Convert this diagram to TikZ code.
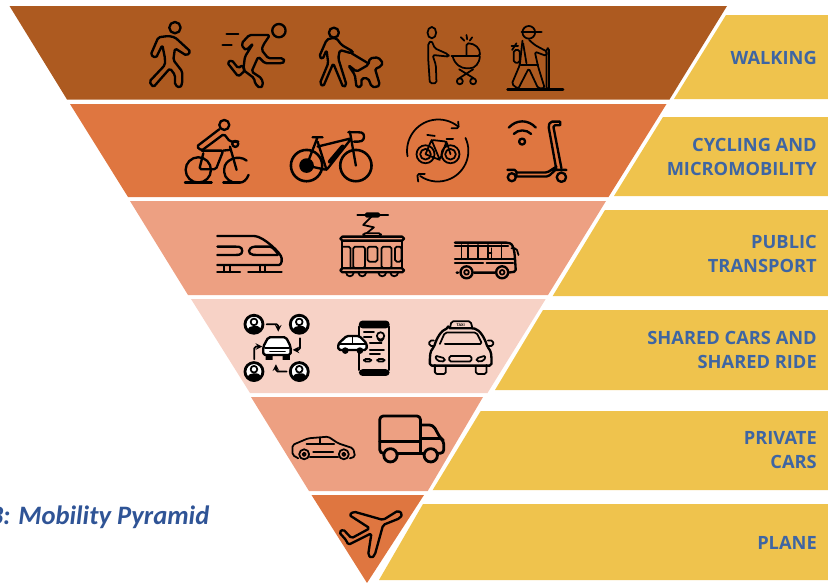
\documentclass[tikz,border=0pt]{standalone}
\usepackage{fontspec}
\setmainfont{Open Sans}
\newfontfamily\capfont{Carlito}
\definecolor{layerbrown}{HTML}{AD5A20}
\definecolor{layerorange}{HTML}{DF7640}
\definecolor{layersalmon}{HTML}{EDA082}
\definecolor{layerpale}{HTML}{F7D2C6}
\definecolor{bandyellow}{HTML}{EFC34D}
\definecolor{bandtext}{HTML}{3E65A3}
\definecolor{captext}{HTML}{2F5496}
\begin{document}
\begin{tikzpicture}[x=.03cm,y=-.03cm,%
    band/.style={fill=bandyellow},%
    tag/.style={anchor=base east,align=right,text=bandtext,inner sep=0pt,%
      font=\fontsize{15.6}{20.4}\selectfont\bfseries},%
    icon/.style={draw=black,line width=2pt,line cap=round,line join=round,rounded corners=1.5pt},%
    thinicon/.style={icon,line width=1.5pt},%
    topzone/.style={shift={(130,0)},x=.01cm,y=-.01cm},%
    midzone/.style={shift={(200,200)},x=.01cm,y=-.01cm},%
    lowzone/.style={shift={(0,390)},x=.01cm,y=-.01cm}%
    ]
  \useasboundingbox (0,0) rectangle (828,583);%
  %% pyramid layers
  \foreach \ya/\yb/\xa/\xb/\xc/\xd/\col in
  {6/99.5/9.5/727/669.5/67/layerbrown,%
    104/197/70/666.5/608.5/128/layerorange,%
    201/295/130/606/548/188/layersalmon,%
    299/393/191/545.7/487.5/250/layerpale,%
    397/491/251/483/427.7/309/layersalmon} {%
    \fill[\col] (\xa,\ya) -- (\xb,\ya) -- (\xc,\yb) -- (\xd,\yb) -- cycle;%
  }%
  \fill[layerorange] (311.5,495) -- (424,495) -- (367,583) -- cycle;%
  %% yellow bands
  \foreach \ya/\yb/\xa/\xb in
  {15/99/726/674,117/196/663/614,210/296/605/552.7,%
    310/390/543/495,411/490/480.7/432.7,504/580/423/379} {%
    \fill[band] (\xa,\ya) -- (828,\ya) -- (828,\yb) -- (\xb,\yb) -- cycle;%
  }%
  %% band labels
  \node[tag] (walking) at (817,64) {WALKING};%
  \node[tag] (cycling) at (817,175) {CYCLING AND\\MICROMOBILITY};%
  \node[tag] (public) at (817,272) {PUBLIC\\TRANSPORT};%
  \node[tag] (shared) at (817,368) {SHARED CARS AND\\SHARED RIDE};%
  \node[tag] (private) at (817,468) {PRIVATE\\CARS};%
  \node[tag] (plane) at (817,549) {PLANE};%
  \node[anchor=base east,inner sep=0pt,text=captext] (caption) at (209.5,524)
  {\capfont\fontsize{22.7}{24}\selectfont\bfseries\itshape 3: Mobility Pyramid};%
  %% top two layers
  \begin{scope}[topzone]
    %% walker
    \draw[icon] (135,83) circle (17);%
    \draw[icon] (115,108) -- (85,112) -- (62,165) -- (78,174) -- (97,135) -- (105,175)
    -- (105,195) -- (58,245) -- (70,262) -- (120,205) -- (135,225) -- (135,255)
    -- (150,264) -- (157,250) -- (157,215) -- (130,180) -- (135,145) -- (170,167)
    -- (182,155) -- (135,112) -- cycle;%
    %% runner
    \draw[icon] (447,92) circle (20);%
    \draw[icon] (335,130) -- (358,105) -- (420,105) -- (400,135) -- (395,150)
    -- (415,175) -- (460,175) -- (465,185) -- (455,190) -- (405,190) -- (385,170)
    -- (365,215) -- (395,235) -- (400,255) -- (390,265) -- (375,250) -- (373,235)
    -- (340,210) -- (345,170) -- (370,130) -- (350,150) -- (340,145) -- cycle;%
    \draw[icon] (290,103) -- (325,103) (278,135) -- (305,135);%
    \draw[icon] (292,188) -- (325,230) -- (345,212) -- (338,195) -- (325,205) -- (305,180) -- cycle;%
    %% dog walker
    \draw[icon] (612,98) circle (15);%
    \draw[icon] (600,115) -- (590,120) -- (568,170) -- (578,178) -- (590,150) -- (595,190)
    -- (570,250) -- (580,260) -- (610,190) -- (640,262) -- (650,255) -- (625,175)
    -- (630,150) -- (665,160) -- (670,155) -- (635,135) -- (620,115) -- cycle;%
    \draw[icon] (665,160) -- (715,190);%
    \draw[icon] (655,195) -- (680,215) -- (715,195) -- (720,175) -- (745,172) -- (760,190)
    -- (745,205) -- (735,205) -- (750,255) -- (740,262) -- (725,260) -- (715,235)
    -- (695,235) -- (695,260) -- (680,262) -- (675,225) -- cycle;%
    %% parent and pram
    \draw[thinicon] (906,98) ellipse (13 and 17);%
    \draw[thinicon] (905,122) -- (895,130) -- (895,175) -- (900,250) -- (920,250)
    -- (918,195) -- (908,165) -- (958,170) -- (955,163) -- (915,145) -- cycle;%
    \draw[thinicon] (965,168) -- (1050,168) .. controls (1052,145) and (1035,130) .. (1010,130) -- (1010,168);%
    \draw[thinicon] (968,168) .. controls (975,195) and (995,205) .. (1015,205)
    .. controls (1035,205) and (1050,190) .. (1050,168);%
    \draw[thinicon] (993,112) -- (1003,122) (1010,105) -- (1012,118) (1027,112) -- (1020,122);%
    \draw[thinicon] (988,235) -- (1030,208) (1032,235) -- (988,208);%
    \draw[thinicon] (990,244) circle (9) (1030,244) circle (9);%
    %% hiker
    \draw[thinicon] (1197,97) circle (19);%
    \draw[icon] (1176,97) -- (1235,97);%
    \draw[thinicon] (1152,150) rectangle (1170,188);%
    \draw[thinicon] (1145,138) -- (1165,138) (1147,150) -- (1160,130);%
    \draw[thinicon] (1178,122) -- (1170,195) -- (1146,252) -- (1165,267) -- (1197,205)
    -- (1225,265) -- (1245,265) -- (1225,200) -- (1215,155) -- (1250,168) -- (1252,155)
    -- (1215,135) -- (1198,120);%
    \draw[thinicon] (1172,195) -- (1225,195) (1180,130) -- (1190,190);%
    \draw[icon] (1133,269) -- (1300,269);%
    \draw[thinicon] (1250,145) rectangle (1258,268);%
    %% cyclist
    \draw[icon] (283,375) circle (15);%
    \draw[icon] (205,510) circle (38);%
    \draw[icon] (350,482) .. controls (325,462) and (283,480) .. (283,512)
    .. controls (283,535) and (305,550) .. (325,548) .. controls (340,548) and (350,540) .. (356,525);%
    \draw[icon] (165,548) -- (245,548) (280,548) -- (330,548);%
    \draw[icon] (268,388) -- (200,440) -- (215,452) -- (282,402) -- (300,425) -- (325,425);%
    \draw[icon] (316,432) circle (9);%
    \draw[icon] (215,452) -- (280,452) -- (258,508) -- (208,508) -- (220,460);%
    \draw[icon] (300,440) -- (320,510) (280,452) -- (300,450);%
    %% electric bike
    \draw[icon,line width=2.2pt] (530,497) circle (47) (678,497) circle (47);%
    \fill (530,497) circle (22);%
    \draw[icon] (530,497) -- (563,412) (548,412) -- (578,412);%
    \draw[icon] (563,440) -- (665,415) -- (590,510) -- (530,497);%
    \draw[icon] (563,425) -- (590,510);%
    \draw[icon] (660,395) -- (678,497);%
    \draw[icon] (655,397) -- (690,397) .. controls (705,400) and (705,420) .. (690,425) -- (672,425);%
    \draw[line width=3.5pt,line cap=round] (600,485) -- (638,440);%
    %% bike in a cycle
    \draw[thinicon] (833,469) arc[start angle=170,end angle=309,radius=94];%
    \draw[thinicon] (965,385) -- (987,385) -- (985,365);%
    \draw[thinicon] (1007,414) arc[start angle=-25,end angle=125,radius=92];%
    \draw[thinicon] (865,545) -- (862,522) -- (885,522);%
    \draw[thinicon] (887,463) circle (27) (887,463) circle (16) (962,463) circle (27) (962,463) circle (16);%
    \draw[thinicon] (887,463) -- (905,420) -- (950,425) -- (962,463) (905,420) -- (930,480) -- (950,425) (930,480) -- (887,463);%
    \draw[thinicon] (892,405) -- (915,408) (950,417) -- (970,417);%
    %% scooter and wifi
    \draw[icon] (1137,383) .. controls (1160,358) and (1195,358) .. (1218,383);%
    \draw[icon] (1152,402) .. controls (1165,388) and (1190,388) .. (1204,402);%
    \draw[icon] (1177,425) circle (9);%
    \draw[icon] (1290,365) -- (1262,365) -- (1256,378) -- (1280,510);%
    \draw[icon] (1290,376) -- (1270,376) -- (1295,505) (1290,365) -- (1295,370) -- (1290,376);%
    \draw[icon] (1160,518) -- (1252,518) -- (1280,500) (1160,530) -- (1255,530) -- (1275,512);%
    \draw[icon] (1133,510) -- (1160,510) -- (1160,530) (1265,510) -- (1310,510);%
    \draw[icon] (1146,532) circle (12) (1295,532) circle (14);%
  \end{scope}%
  %% middle two layers
  \begin{scope}[midzone]
    %% train
    \draw[icon] (52,108) -- (160,108) .. controls (190,110) and (245,160) .. (245,180)
    .. controls (245,190) and (240,195) .. (232,195) -- (52,195);%
    \draw[icon] (52,140) -- (112,140) .. controls (130,142) and (130,163) .. (112,165) -- (52,165);%
    \draw[icon] (165,140) -- (215,140) -- (238,165) -- (165,165) .. controls (142,163) and (142,142) .. (165,140);%
    \draw[icon] (52,216) -- (120,216) (145,216) -- (245,216);%
    \draw[icon] (72,196) -- (72,216) (90,196) -- (90,216) (180,196) -- (180,216) (196,196) -- (196,216);%
    %% tram
    \draw[thinicon] (472,45) -- (565,45);%
    \draw[thinicon] (495,40) rectangle (540,50);%
    \draw[thinicon,rounded corners=0pt] (515,50) -- (490,75) -- (522,82) -- (500,100);%
    \draw[thinicon] (490,100) rectangle (543,108);%
    \draw[icon] (422,110) rectangle (612,122);%
    \draw[icon] (427,122) -- (427,205) (607,122) -- (607,205);%
    \draw[thinicon] (460,140) rectangle (495,205) (503,140) rectangle (533,185);%
    \draw[thinicon] (545,140) rectangle (575,205) (585,140) rectangle (605,185);%
    \draw[thinicon] (430,140) -- (452,140) -- (452,205);%
    \draw[icon] (422,205) rectangle (612,217);%
    \foreach \wx in {450,487,547,583} {%
      \draw[thinicon] (\wx-12,217) .. controls (\wx-10,233) and (\wx+10,233) .. (\wx+12,217);%
    }%
    %% bus
    \draw[icon] (765,128) -- (925,128) .. controls (945,135) and (945,170) .. (948,215)
    -- (925,218) (885,218) -- (822,218) (780,218) -- (765,218) -- cycle;%
    \draw[thinicon] (765,178) -- (942,178) (765,188) -- (850,188) (860,188) -- (940,188);%
    \foreach \wx in {785,805,835,865,905} {%
      \draw[thinicon] (\wx,135) -- (\wx,178);%
    }%
    \draw[thinicon] (765,138) -- (925,138) (875,145) -- (875,178) (865,160) -- (875,160);%
    \draw[thinicon] (935,145) -- (950,145) -- (956,165);%
    \foreach \wx in {800,907} {%
      \draw[icon,fill=layersalmon] (\wx,217) circle (18);%
      \draw[thinicon] (\wx,217) circle (7);%
    }%
    %% shared riders
    \foreach \ux/\uy in {162/373,298/373,162/515,298/515} {%
      \draw[icon,fill=white,line width=2.4pt] (\ux,\uy) circle (27);%
      \draw[thinicon] (\ux,\uy-7) circle (10);%
      \draw[thinicon,fill=black] (\ux-18,\uy+18) .. controls (\ux-15,\uy+5) and (\ux+15,\uy+5) .. (\ux+18,\uy+18)
      .. controls (\ux+8,\uy+26) and (\ux-8,\uy+26) .. (\ux-18,\uy+18);%
    }%
    \draw[thinicon,->,>=stealth] (200,373) -- (235,373) -- (235,395);%
    \draw[thinicon,->,>=stealth] (300,415) -- (300,450) -- (278,450);%
    \draw[thinicon,->,>=stealth] (260,515) -- (228,515) -- (228,493);%
    \draw[thinicon,->,>=stealth] (163,478) -- (163,440) -- (187,440);%
    \draw[icon,fill=white] (190,465) -- (190,440) -- (205,412) -- (258,412) -- (272,440) -- (272,465) -- cycle;%
    \draw[thinicon] (195,445) -- (268,445);%
    \draw[thinicon] (210,455) -- (255,455);%
    \fill (197,465) rectangle (218,480) (248,465) rectangle (270,480);%
    %% booking phone
    \draw[icon] (478,380) -- (478,510) (568,380) -- (568,510);%
    \fill[rounded corners=3pt] (477,362) rectangle (569,385) (477,508) rectangle (569,528);%
    \draw[thinicon] (492,396) -- (522,396) (492,412) -- (515,412) (510,430) -- (545,430) (510,450) -- (552,450) (510,462) -- (540,462);%
    \draw[thinicon] (542,408) circle (11);%
    \draw[thinicon] (533,415) -- (542,427) -- (551,415);%
    \draw[thinicon] (492,477) rectangle (514,485) (532,477) rectangle (554,485);%
    \draw[icon,fill=white] (415,450) -- (415,432) -- (440,408) -- (478,408) -- (500,430) -- (500,450) -- cycle;%
    \draw[thinicon] (415,432) -- (500,432) (458,410) -- (458,432);%
    \fill (436,452) circle (10) (480,452) circle (10);%
    %% taxi
    \draw[thinicon] (750,385) -- (755,364) -- (812,364) -- (818,385);%
    \node[inner sep=0pt,font=\fontsize{3.2}{4}\selectfont\bfseries] (taxisign) at (783,376) {TAXI};%
    \draw[icon] (745,385) -- (820,385) .. controls (840,390) and (855,415) .. (862,440)
    .. controls (875,455) and (875,465) .. (875,497) -- (690,497) .. controls (690,465) and (690,455) .. (703,440)
    .. controls (710,415) and (725,390) .. (745,385) -- cycle;%
    \draw[thinicon] (720,432) -- (735,398) -- (830,398) -- (847,432) -- (735,432);%
    \draw[thinicon] (705,495) -- (705,522) -- (738,522) -- (738,497) (828,497) -- (828,522) -- (860,522) -- (860,495);%
    \draw[thinicon] (702,422) -- (688,422) -- (688,438) -- (702,438) (864,422) -- (880,422) -- (880,438) -- (864,438);%
    \draw[thinicon] (705,467) -- (735,475) -- (735,485) -- (712,483) -- cycle;%
    \draw[thinicon] (858,467) -- (830,475) -- (830,485) -- (852,483) -- cycle;%
    \draw[thinicon] (748,468) rectangle (815,485);%
  \end{scope}%
  %% last two layers
  \begin{scope}[lowzone]
    %% car
    \draw[thinicon] (895,205) -- (878,195) -- (878,165) -- (925,145) -- (985,140) -- (1015,160)
    -- (1060,175) -- (1066,200) -- (1050,205);%
    \draw[thinicon] (930,202) -- (1015,202) (940,187) -- (1000,187) (920,162) -- (1003,162) (960,143) -- (960,162);%
    \draw[thinicon] (913,193) circle (15) (913,193) circle (5);%
    \draw[thinicon] (1032,193) circle (15) (1032,193) circle (5);%
    %% van
    \draw[icon,line width=2.4pt,rounded corners=3pt] (1150,190) -- (1140,190) -- (1140,78) -- (1262,78) -- (1262,190);%
    \draw[icon,line width=2.4pt] (1140,155) -- (1262,155) (1195,190) -- (1270,190);%
    \draw[icon,line width=2.4pt,rounded corners=3pt] (1262,105) -- (1300,105) -- (1322,145) -- (1332,152) -- (1332,190) -- (1315,190);%
    \draw[icon,line width=2.4pt] (1262,145) -- (1322,145);%
    \draw[icon,line width=2.4pt] (1172,196) circle (20) (1293,196) circle (20);%
    %% aeroplane
    \draw[icon] (1208,372) -- (1195,362) -- (1150,390) -- (1062,365) -- (1048,375) -- (1110,415)
    -- (1055,445) -- (1030,418) -- (1018,427) -- (1040,452) -- (1045,465) -- (1115,430)
    -- (1105,495) -- (1115,505) -- (1125,495) -- (1150,405) -- (1200,385) -- cycle;%
  \end{scope}%
\end{tikzpicture}
\end{document}
